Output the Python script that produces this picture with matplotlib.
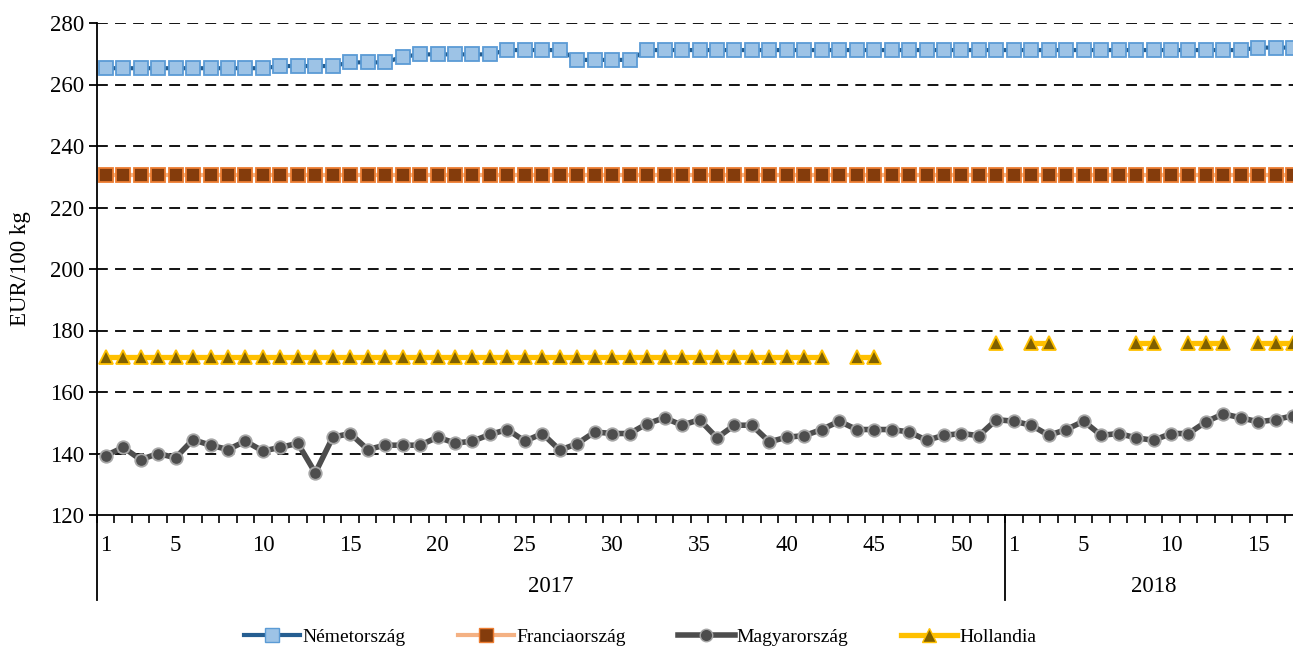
import numpy as np
import matplotlib
matplotlib.use('Agg')
import matplotlib.pyplot as plt
from matplotlib.lines import Line2D

plt.rcParams['font.family'] = ['Liberation Serif', 'DejaVu Serif']
plt.rcParams['font.size'] = 16.5

# weekly data: 2017 weeks 1-52, 2018 weeks 1-17
weeks_2017 = list(range(1, 53))
weeks_2018 = list(range(1, 18))
years = ['2017', '2018']

nemet = ([265.3] * 10 + [266.0] * 4 + [267.2] * 3 + [269.0] + [269.8] * 5 +
         [271.2] * 4 + [268.0] * 4 + [271.2] * 21 +
         [271.2] * 14 + [272.0] * 3)

francia = [230.5] * 69

magyar = [139.3, 142.0, 138.0, 140.0, 138.6, 144.5, 142.7, 141.3, 144.0, 140.8,
          142.0, 143.3, 133.7, 145.3, 146.5, 141.3, 142.7, 142.7, 142.7, 145.3,
          143.4, 144.0, 146.2, 147.8, 144.0, 146.5, 141.1, 143.2, 147.0, 146.5,
          146.5, 149.7, 151.6, 149.2, 151.0, 145.1, 149.2, 149.2, 143.8, 145.3,
          145.8, 147.8, 150.5, 147.8, 147.8, 147.8, 147.0, 144.3, 145.9, 146.5,
          145.8, 151.0,
          150.5, 149.2, 145.9, 147.8, 150.5, 145.9, 146.5, 145.1, 144.3, 146.5,
          146.5, 150.3, 152.9, 151.6, 150.3, 151.0, 152.3]

n = np.nan
holland = ([171.5] * 42 + [n, 171.5, 171.5] + [n] * 6 + [176.0] +
           [n, 176.0, 176.0, n, n, n, n, 176.0, 176.0, n, 176.0, 176.0, 176.0,
            n, 176.0, 176.0, 176.0])

labels = ['Németország', 'Franciaország', 'Magyarország', 'Hollandia']

x = np.arange(1, len(magyar) + 1)

fig = plt.figure(figsize=(12.93, 6.49), dpi=100)
# axis runs a little past the right edge of the picture, like the original
ax = fig.add_axes([97 / 1293, 134 / 649, 1205 / 1293, 492 / 649])

ax.plot(x, nemet, color='#255E91', lw=3, marker='s', ms=10.5,
        mfc='#9DC3E6', mec='#5B9BD5', mew=1.3, zorder=4)
ax.plot(x, francia, color='#F4B183', lw=3, marker='s', ms=9.5,
        mfc='#843C0C', mec='#ED7D31', mew=1.3, zorder=4)
ax.plot(x, magyar, color='#4D4D4D', lw=4, marker='o', ms=9,
        mfc='#4D4D4D', mec='#A6A6A6', mew=1.3, zorder=4)
ax.plot(x, holland, color='#FFC000', lw=3.8, marker='^', ms=10,
        mfc='#7F6000', mec='#FFC000', mew=1.3, zorder=4)

ax.set_ylim(120, 280)
ax.set_yticks(range(120, 281, 20))
ax.set_xlim(0.5, len(x) + 0.5)
for yv in range(140, 281, 20):
    ax.axhline(yv, color='black', lw=1.3, ls=(0, (6, 4)), zorder=1)

for s in ['top', 'right']:
    ax.spines[s].set_visible(False)
ax.spines['left'].set_linewidth(1.3)
ax.spines['bottom'].set_linewidth(1.3)
ax.tick_params(axis='y', direction='out', length=6, width=1.3, pad=3)
ax.set_ylabel('EUR/100 kg', labelpad=14)

# category ticks
ax.set_xticks(np.arange(0.5, len(x) + 1, 1), minor=True)
ax.set_xticks([])
ax.tick_params(axis='x', which='minor', direction='out', length=6, width=1.2)

# week labels
trans = ax.get_xaxis_transform()
n17 = len(weeks_2017)
for i, w in enumerate(weeks_2017 + weeks_2018):
    if w == 1 or w % 5 == 0:
        ax.text(i + 1, -0.061, str(w), transform=trans, ha='center', va='center')

# year group separators and labels
for xs in [0.5, n17 + 0.5]:
    ax.add_line(Line2D([xs, xs], [0, -0.173], transform=trans, color='black',
                       lw=1.3, clip_on=False))
ax.text((0.5 + n17 + 0.5) / 2, -0.145, years[0], transform=trans,
        ha='center', va='center')
ax.text((n17 + 0.5 + len(x) + 0.5) / 2, -0.145, years[1], transform=trans,
        ha='center', va='center')

handles = [
    Line2D([], [], color='#255E91', lw=3, marker='s', ms=10, mfc='#9DC3E6', mec='#5B9BD5'),
    Line2D([], [], color='#F4B183', lw=3, marker='s', ms=9.5, mfc='#843C0C', mec='#ED7D31'),
    Line2D([], [], color='#4D4D4D', lw=4, marker='o', ms=9, mfc='#4D4D4D', mec='#A6A6A6'),
    Line2D([], [], color='#FFC000', lw=3.8, marker='^', ms=10, mfc='#7F6000', mec='#FFC000'),
]
fig.legend(handles, labels, loc='lower center', bbox_to_anchor=(0.495, -0.022),
           ncol=4, frameon=False, handlelength=2.9, handletextpad=0.1,
           columnspacing=2.7, fontsize=14)

fig.savefig('out.png', dpi=100)
